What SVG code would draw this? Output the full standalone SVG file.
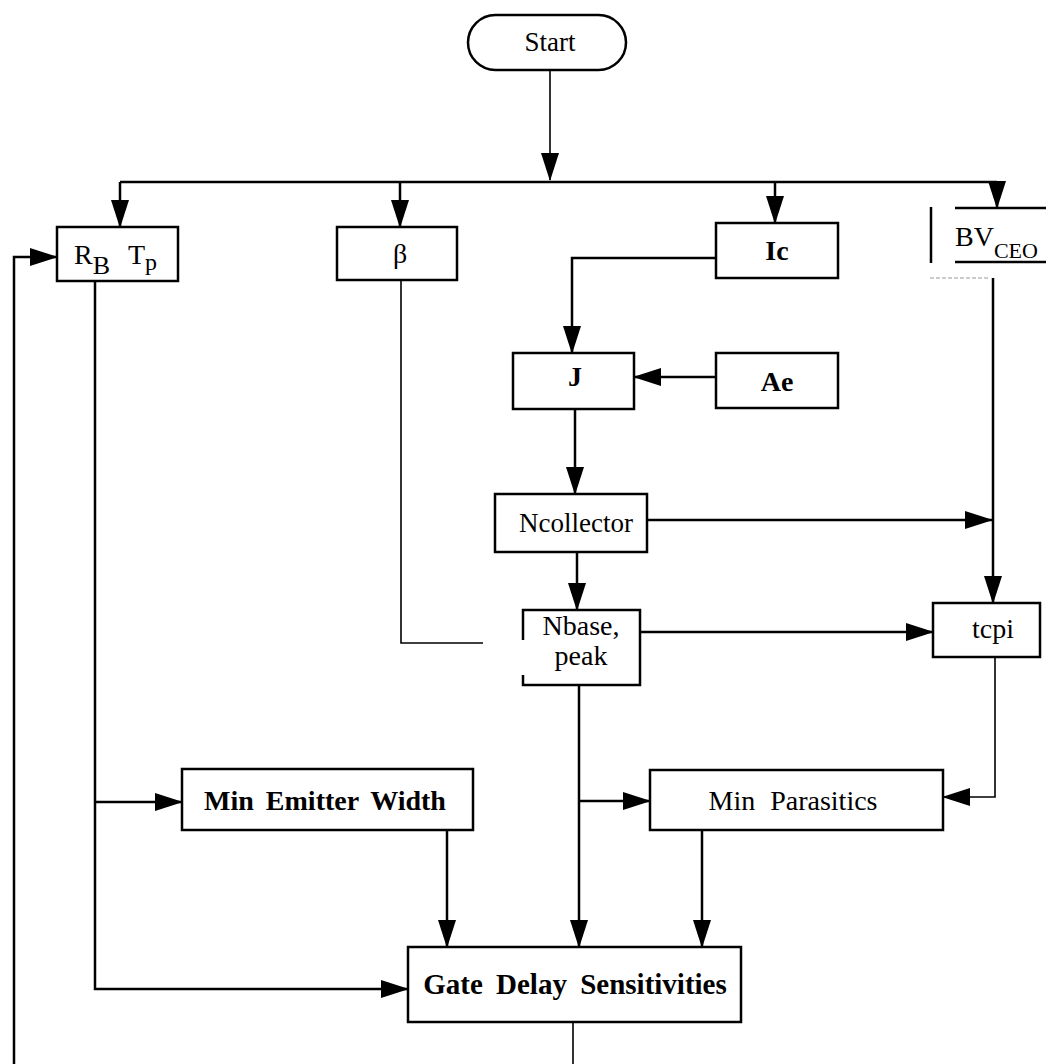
<svg xmlns="http://www.w3.org/2000/svg" width="1046" height="1064" viewBox="0 0 1046 1064">
<style>
.box{fill:#fff;stroke:#000;stroke-width:2.5}
.ln{fill:none;stroke:#000;stroke-width:2.5}
.thin{fill:none;stroke:#000;stroke-width:1.6}
.t{font-family:"Liberation Serif","Times New Roman",serif;font-size:28px;fill:#000;text-anchor:middle}
.b{font-weight:bold}
</style>
<defs>
<marker id="ah" markerUnits="userSpaceOnUse" markerWidth="28" markerHeight="18" refX="27" refY="9" orient="auto">
<path d="M0,0 L28,9 L0,18 z" fill="#000"/>
</marker>
</defs>
<rect width="1046" height="1064" fill="#fff"/>
<g id="connectors">
<path class="thin" d="M550,70 V180" marker-end="url(#ah)"/>
<path class="ln" d="M120,182 H997"/>
<path class="ln" d="M120,182 V227" marker-end="url(#ah)"/>
<path class="ln" d="M400,182 V227" marker-end="url(#ah)"/>
<path class="ln" d="M775,182 V223" marker-end="url(#ah)"/>
<path class="ln" d="M997,182 V208" marker-end="url(#ah)"/>
<path class="ln" d="M716,258 H572 V353" marker-end="url(#ah)"/>
<path class="ln" d="M716,377 H634" marker-end="url(#ah)"/>
<path class="ln" d="M575,409 V494" marker-end="url(#ah)"/>
<path class="ln" d="M647,520 H992" marker-end="url(#ah)"/>
<path class="ln" d="M993,278 V603" marker-end="url(#ah)"/>
<path class="ln" d="M577,552 V610" marker-end="url(#ah)"/>
<path class="thin" d="M401,280 V643 H483"/>
<path class="ln" d="M640,632 H933" marker-end="url(#ah)"/>
<path class="thin" d="M995,657 V797 H943" marker-end="url(#ah)"/>
<path class="ln" d="M579,685 V947" marker-end="url(#ah)"/>
<path class="ln" d="M579,801 H650" marker-end="url(#ah)"/>
<path class="ln" d="M95,280 V989 H408" marker-end="url(#ah)"/>
<path class="ln" d="M95,802 H182" marker-end="url(#ah)"/>
<path class="ln" d="M447,830 V947" marker-end="url(#ah)"/>
<path class="ln" d="M702,830 V947" marker-end="url(#ah)"/>
<path class="thin" d="M573,1022 V1064"/>
<path class="ln" d="M14,1064 V257 H57" marker-end="url(#ah)"/>
</g>
<g id="start">
<rect class="box" x="468" y="15" width="158" height="55" rx="27.5" ry="27.5"/>
<text class="t" x="550" y="51" style="font-size:27px">Start</text>
</g>
<g id="rbtp">
<rect class="box" x="57" y="227" width="121" height="54"/>
<text class="t" x="74" y="264" style="text-anchor:start">R<tspan dy="10" font-size="26">B</tspan></text>
<text class="t" x="128" y="264" style="text-anchor:start">T<tspan dy="6" font-size="24">p</tspan></text>
</g>
<g id="beta">
<rect class="box" x="337" y="227" width="120" height="53"/>
<text class="t" x="400" y="263">β</text>
</g>
<g id="ic">
<rect class="box" x="716" y="223" width="122" height="55"/>
<text class="t b" x="777" y="260">Ic</text>
</g>
<g id="bvceo">
<path class="ln" d="M931,207 V263 M955,208 H1046 M955,262 H1046"/>
<path d="M930,278 H990" stroke="#999" stroke-width="1" stroke-dasharray="4,2"/>
<text class="t" x="955" y="246" style="text-anchor:start">BV<tspan dy="12" font-size="22">CEO</tspan></text>
</g>
<g id="j">
<rect class="box" x="513" y="353" width="121" height="56"/>
<text class="t b" x="575" y="386">J</text>
</g>
<g id="ae">
<rect class="box" x="716" y="353" width="122" height="55"/>
<text class="t b" x="777" y="391">Ae</text>
</g>
<g id="ncollector">
<rect class="box" x="495" y="494" width="152" height="58"/>
<text class="t" x="576" y="532" style="font-size:27px">Ncollector</text>
</g>
<g id="nbase">
<rect x="523" y="610" width="117" height="75" fill="#fff"/>
<path class="ln" d="M523,640 V610 H640 V685 H523 V675"/>
<text class="t" x="581" y="635">Nbase,</text>
<text class="t" x="581" y="665">peak</text>
</g>
<g id="tcpi">
<rect class="box" x="933" y="603" width="107" height="54"/>
<text class="t" x="993" y="638">tcpi</text>
</g>
<g id="minemitter">
<rect class="box" x="182" y="769" width="291" height="61"/>
<text class="t b" x="325" y="810" style="word-spacing:5px">Min Emitter Width</text>
</g>
<g id="minparasitics">
<rect class="box" x="650" y="770" width="293" height="60"/>
<text class="t" x="793" y="810" style="word-spacing:8px">Min Parasitics</text>
</g>
<g id="gatedelay">
<rect class="box" x="408" y="947" width="333" height="75"/>
<text class="t b" x="575" y="994" style="font-size:29px;word-spacing:6px">Gate Delay Sensitivities</text>
</g>
</svg>
